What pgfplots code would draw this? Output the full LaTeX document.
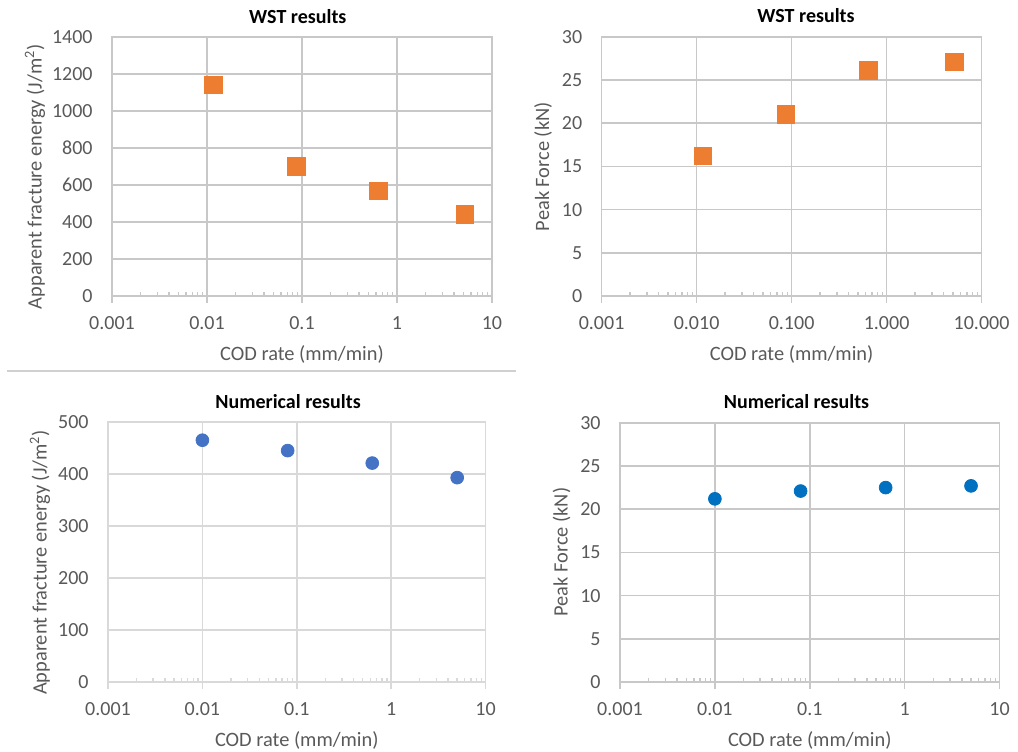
\documentclass[border=0pt]{standalone}
\usepackage{pgfplots}
\pgfplotsset{compat=1.18}
\usepackage{fontspec}
\setmainfont{Carlito}
\definecolor{xlorange}{HTML}{ED7D31}
\definecolor{xlblue}{HTML}{4472C4}
\definecolor{xlblueb}{HTML}{0070C0}
\definecolor{txtgray}{HTML}{595959}
\definecolor{gridA}{HTML}{C8C8C8}
\definecolor{gridB}{HTML}{D9D9D9}
\definecolor{sepgray}{HTML}{D0D0D0}

\pgfplotsset{
  xlbase/.style={
    scale only axis,
    xmin=0.001, xmax=10, ymin=0,
    xtick={0.001,0.01,0.1,1,10},
    minor xtick={0.002,0.003,0.004,0.005,0.006,0.007,0.008,0.009,
                 0.02,0.03,0.04,0.05,0.06,0.07,0.08,0.09,
                 0.2,0.3,0.4,0.5,0.6,0.7,0.8,0.9,
                 2,3,4,5,6,7,8,9},
    xtick pos=bottom,
    ytick style={draw=none},
    tick align=inside,
    major tick length=-3.5pt,
    minor tick length=2.2pt,
    xmajorgrids, ymajorgrids,
    xminorgrids=false,
    axis line style={draw=#1, line width=0.8pt},
    major grid style={draw=#1, line width=0.8pt},
    major tick style={draw=#1, line width=0.8pt},
    minor tick style={draw=#1, line width=0.7pt},
    tick label style={font=\fontsize{10pt}{12pt}\selectfont, text=txtgray, inner sep=0pt},
    xticklabel style={anchor=center, yshift=-13.35pt},
    yticklabel style={anchor=east, xshift=-9.5pt},
    label style={font=\fontsize{10.2pt}{12pt}\selectfont, text=txtgray},
    xlabel={COD rate (mm/min)},
    xlabel style={at={(axis description cs:0.5,0)}, anchor=center, yshift=-29.3pt},
    title style={font=\fontsize{10pt}{12pt}\selectfont\bfseries, text=black, anchor=center, yshift=4.4pt},
    clip=false,
  },
}

\begin{document}
\begin{tikzpicture}
\useasboundingbox (0,0) rectangle (509pt,375.5pt);

% separator line
\draw[sepgray, line width=0.9pt] (3.5pt,189.9pt) -- (258pt,189.9pt);

% Panel 1: WST energy
\begin{semilogxaxis}[xlbase=gridA,
  at={(56pt,227.5pt)}, anchor=south west,
  width=190pt, height=129.5pt,
  ymax=1400,
  xticklabels={0.001,0.01,0.1,1,10},
  ytick={0,200,400,600,800,1000,1200,1400},
  yticklabels={0,200,400,600,800,1000,1200,1400},
  ylabel={Apparent fracture energy (J/m\textsuperscript{2})},
  ylabel style={at={(axis description cs:0,0.461)}, anchor=center, yshift=38.5pt},
  title={WST results},
  title style={at={(axis description cs:0.489,1)}},
]
\addplot[only marks, mark=square*, mark size=4.4pt, mark options={fill=xlorange, draw=xlorange}]
  coordinates {(0.0117,1142) (0.087,700) (0.64,568) (5.2,440)};
\end{semilogxaxis}

% Panel 2: WST peak force
\begin{semilogxaxis}[xlbase=gridA,
  at={(300.8pt,227.5pt)}, anchor=south west,
  width=190pt, height=129.6pt,
  ymax=30,
  xticklabels={0.001,0.010,0.100,1.000,10.000},
  ytick={0,5,10,15,20,25,30},
  yticklabels={0,5,10,15,20,25,30},
  ylabel={Peak Force (kN)},
  ylabel style={at={(axis description cs:0,0.499)}, anchor=center, yshift=29.2pt},
  title={WST results},
  title style={at={(axis description cs:0.538,1)}},
]
\addplot[only marks, mark=square*, mark size=4.4pt, mark options={fill=xlorange, draw=xlorange}]
  coordinates {(0.0117,16.2) (0.087,21.0) (0.64,26.1) (5.2,27.1)};
\end{semilogxaxis}

% Panel 3: Numerical energy
\begin{semilogxaxis}[xlbase=gridB,
  at={(54pt,34.5pt)}, anchor=south west,
  width=188.8pt, height=130pt,
  ymax=500,
  xticklabels={0.001,0.01,0.1,1,10},
  ytick={0,100,200,300,400,500},
  yticklabels={0,100,200,300,400,500},
  ylabel={Apparent fracture energy (J/m\textsuperscript{2})},
  ylabel style={at={(axis description cs:0,0.46)}, anchor=center, yshift=34pt},
  title={Numerical results},
  title style={at={(axis description cs:0.477,1)}},
]
\addplot[only marks, mark=*, mark size=3.2pt, mark options={fill=xlblue, draw=xlblue}]
  coordinates {(0.01,465) (0.08,445) (0.63,421) (5.0,393)};
\end{semilogxaxis}

% Panel 4: Numerical peak force
\begin{semilogxaxis}[xlbase=gridA,
  at={(310pt,34.5pt)}, anchor=south west,
  width=189.8pt, height=129.6pt,
  ymax=30,
  xticklabels={0.001,0.01,0.1,1,10},
  ytick={0,5,10,15,20,25,30},
  yticklabels={0,5,10,15,20,25,30},
  ylabel={Peak Force (kN)},
  ylabel style={at={(axis description cs:0,0.501)}, anchor=center, yshift=29.2pt},
  title={Numerical results},
  title style={at={(axis description cs:0.465,1)}},
]
\addplot[only marks, mark=*, mark size=3.2pt, mark options={fill=xlblueb, draw=xlblueb}]
  coordinates {(0.01,21.2) (0.08,22.1) (0.63,22.5) (5.0,22.7)};
\end{semilogxaxis}
\end{tikzpicture}
\end{document}
